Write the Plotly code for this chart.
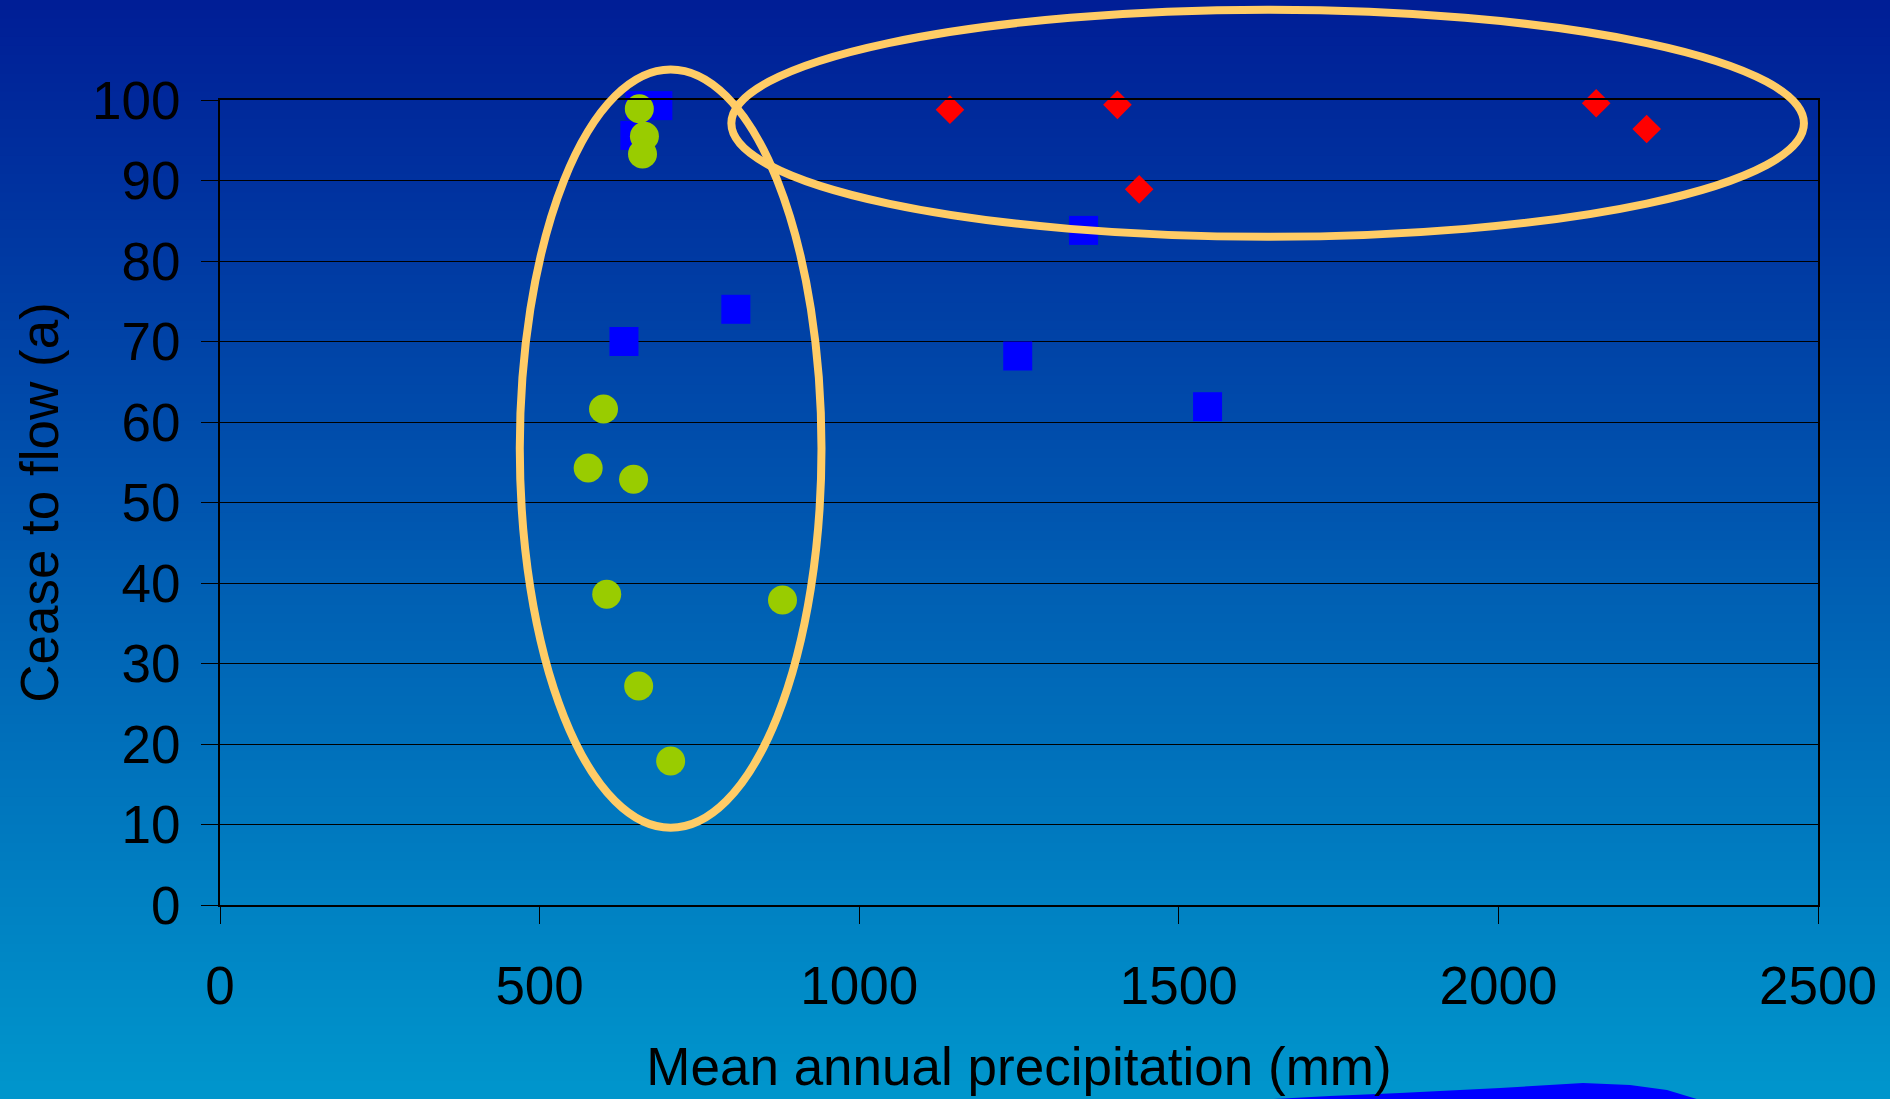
import plotly.graph_objects as go

# ---- data ----
green_x = [656, 664, 661, 600, 576, 647, 605, 880, 655, 705]
green_y = [98.9, 95.5, 93.3, 61.6, 54.3, 52.9, 38.6, 37.9, 27.2, 17.9]

blue_x = [657, 685, 649, 632, 807, 1351, 1248, 1545]
blue_y = [99.3, 99.3, 95.6, 70.0, 74.0, 83.8, 68.2, 61.9]

red_x = [1142, 1404, 1438, 2153, 2232]
red_y = [98.8, 99.4, 88.9, 99.6, 96.4]

x_ticks = [0, 500, 1000, 1500, 2000, 2500]
y_ticks = [0, 10, 20, 30, 40, 50, 60, 70, 80, 90, 100]

# ellipse annotations (data units): x0, x1, y0, y1
ellipse_a = [469, 941, 9.6, 103.8]
ellipse_b = [800, 2478, 83.0, 111.2]

X_RANGE = [0, 2500]
Y_RANGE = [0, 100]

W, H = 1890, 1099
ML, MR, MT, MB = 220, 72, 100, 194
PW, PH = W - ML - MR, H - MT - MB


def px_to_paper(xp, yp):
    return (xp - ML) / PW, (H - MB - yp) / PH


def dx(v):
    return (v - X_RANGE[0]) / (X_RANGE[1] - X_RANGE[0])


def dy(v):
    return (v - Y_RANGE[0]) / (Y_RANGE[1] - Y_RANGE[0])


fig = go.Figure()

fig.add_trace(go.Scatter(x=blue_x, y=blue_y, mode="markers",
                         marker=dict(symbol="square", size=29, color="#0000FF"),
                         cliponaxis=False, showlegend=False))
fig.add_trace(go.Scatter(x=red_x, y=red_y, mode="markers",
                         marker=dict(symbol="diamond", size=22, color="#FF0000"),
                         cliponaxis=False, showlegend=False))
fig.add_trace(go.Scatter(x=green_x, y=green_y, mode="markers",
                         marker=dict(symbol="circle", size=29, color="#99CC00"),
                         cliponaxis=False, showlegend=False))

shapes = []
# vertical gradient background
top = (0, 30, 150)
bot = (0, 150, 204)
n = 120
x_left, _ = px_to_paper(-2, 0)
x_right, _ = px_to_paper(W + 2, 0)
for i in range(n):
    t = i / (n - 1)
    c = tuple(int(round(top[k] + (bot[k] - top[k]) * t)) for k in range(3))
    _, ya = px_to_paper(0, H * i / n - (2 if i == 0 else 0))
    _, yb = px_to_paper(0, H * (i + 1) / n + 1)
    shapes.append(dict(type="rect", xref="paper", yref="paper",
                       x0=x_left, x1=x_right, y0=yb, y1=ya,
                       fillcolor="rgb(%d,%d,%d)" % c, line=dict(width=0),
                       layer="below"))

# decorative blob at bottom right
blob_pts = [(1255, 1100), (1330, 1096), (1400, 1093), (1500, 1088),
            (1583, 1083), (1630, 1085), (1667, 1090), (1700, 1100)]
pp = [px_to_paper(a, b) for a, b in blob_pts]
path = "M %f,%f " % pp[0] + " ".join("L %f,%f" % p for p in pp[1:]) + " Z"
shapes.append(dict(type="path", xref="paper", yref="paper", path=path,
                   fillcolor="#0000FF", line=dict(width=0), layer="above"))

for e in (ellipse_a, ellipse_b):
    shapes.append(dict(type="circle", xref="paper", yref="paper",
                       x0=dx(e[0]), x1=dx(e[1]), y0=dy(e[2]), y1=dy(e[3]),
                       line=dict(color="#FFCC66", width=8), layer="above"))

font = dict(family="Liberation Sans, Arial, sans-serif", size=53, color="black")

fig.update_layout(
    width=W, height=H,
    margin=dict(l=ML, r=MR, t=MT, b=MB, autoexpand=False),
    paper_bgcolor="rgb(0,150,204)",
    plot_bgcolor="rgba(0,0,0,0)",
    shapes=shapes,
    font=font,
    xaxis=dict(range=X_RANGE, tickvals=x_ticks, ticks="outside", ticklen=17,
               tickwidth=1, tickcolor="black", showgrid=False, zeroline=False,
               showline=True, linecolor="black", linewidth=2, mirror=True,
               tickfont=font, ticklabelstandoff=16, automargin=False,
               title=dict(text="Mean annual precipitation (mm)", font=font,
                          standoff=34)),
    yaxis=dict(range=Y_RANGE, tickvals=y_ticks, ticks="outside", ticklen=17,
               tickwidth=1, tickcolor="black", showgrid=True, gridcolor="black",
               gridwidth=1, zeroline=False,
               showline=True, linecolor="black", linewidth=2, mirror=True,
               tickfont=font, ticklabelstandoff=10, automargin=False,
               title=dict(text="Cease to flow (a)", font=font, standoff=16)),
)

fig.write_html("out.html")
